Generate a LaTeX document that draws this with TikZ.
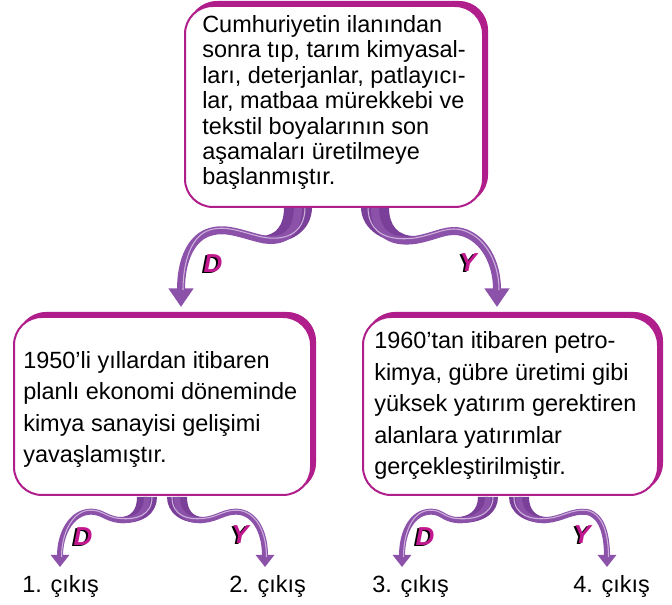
\documentclass[tikz,border=0pt]{standalone}
\usepackage{fontspec}
\setmainfont{Liberation Sans}
\usetikzlibrary{arrows.meta,shadows}
\definecolor{mag}{HTML}{B01E8C}
\definecolor{rib}{HTML}{8C52A9}
\definecolor{ribdark}{HTML}{7A3F98}
\definecolor{ribhi}{HTML}{CDB0DC}
\definecolor{labc}{HTML}{C2188F}
\begin{document}
\begin{tikzpicture}[x=0.75pt,y=-0.75pt,
  box/.style={draw=mag, line width=1.5pt, fill=white, rounded corners=21pt, inner sep=0pt,
     copy shadow={shadow xshift=3pt, shadow yshift=3pt, fill=mag, draw=mag, opacity=1}},
  txt/.style={anchor=base west, align=left, inner sep=0pt, font=\fontsize{17.6}{19.1}\selectfont},
  txtb/.style={anchor=base west, align=left, inner sep=0pt, font=\fontsize{17.6}{23.7}\selectfont},
  outtxt/.style={anchor=base west, inner sep=0pt, font=\fontsize{17.6}{19}\selectfont},
  bigrib/.style={draw=rib, line width=6pt, -{Triangle[width=18pt,length=14pt]}},
  smallrib/.style={draw=rib, line width=4.5pt, -{Triangle[width=13.5pt,length=9pt]}},
  hilite/.style={draw=ribhi, line width=0.8pt},
  twist/.style={fill=ribdark},
  labf/.style={font=\fontsize{19.5}{19.5}\selectfont\bfseries\itshape, text=labc, inner sep=0pt},
  labs/.style={font=\fontsize{19.5}{19.5}\selectfont\bfseries\itshape, text=black, inner sep=0pt}
]
\useasboundingbox (0,0) rectangle (672,605);

% coordinates for connector ends
\coordinate (s1) at (298,207);
\coordinate (e1) at (181,307);
\coordinate (s2) at (375,207);
\coordinate (e2) at (497,307);
\coordinate (s3) at (147,497);
\coordinate (e3) at (60,567);
\coordinate (s4) at (177,497);
\coordinate (e4) at (265,567);
\coordinate (s5) at (488,497);
\coordinate (e5) at (402,567);
\coordinate (s6) at (519,497);
\coordinate (e6) at (607,567);

% ---- top arrows
\fill[twist] (284,207) .. controls (284,226) and (276,235) .. (262,236) -- (262,243) .. controls (292,245) and (312,230) .. (312,207) -- cycle;
\draw[bigrib] (s1) .. controls (298,235) and (282,243) .. (262,239) .. controls (240,234) and (225,226) .. (207,233) .. controls (190,240) and (181,262) .. (e1);
\draw[hilite] (305,207) .. controls (305,236) and (282,241) .. (262,237) .. controls (240,232) and (225,224) .. (207,231) .. controls (191,238) and (183,262) .. (183,290);

\fill[twist] (389,207) .. controls (389,226) and (398,236) .. (415,236) -- (415,243) .. controls (385,245) and (361,230) .. (361,207) -- cycle;
\draw[bigrib] (s2) .. controls (375,235) and (392,243) .. (415,240) .. controls (438,236) and (448,227) .. (465,233) .. controls (484,240) and (497,262) .. (e2);
\draw[hilite] (368,207) .. controls (368,236) and (392,241) .. (415,238) .. controls (438,234) and (448,225) .. (465,231) .. controls (485,238) and (499,262) .. (499,290);

% ---- bottom arrows
\fill[twist] (137,497) .. controls (137,511) and (130,517) .. (120,517) -- (120,523) .. controls (145,524) and (157,512) .. (157,497) -- cycle;
\draw[smallrib] (s3) .. controls (147,515) and (135,521) .. (120,520) .. controls (105,519) and (102,510) .. (87,512) .. controls (70,515) and (60,535) .. (e3);
\draw[hilite] (152,497) .. controls (152,516) and (135,520) .. (120,518.5) .. controls (105,517.5) and (102,508.5) .. (87,510.5) .. controls (71,513.5) and (61.5,535) .. (61.5,557);

\fill[twist] (167,497) .. controls (167,512) and (180,524) .. (203,523) -- (203,517) .. controls (193,517) and (187,510) .. (187,497) -- cycle;
\draw[smallrib] (s4) .. controls (177,515) and (188,521) .. (203,520) .. controls (218,519) and (225,510) .. (240,512) .. controls (257,515) and (265,535) .. (e4);
\draw[hilite] (172,497) .. controls (172,516) and (188,520) .. (203,518.5) .. controls (218,517.5) and (225,508.5) .. (240,510.5) .. controls (258,513.5) and (266.5,535) .. (266.5,557);

\fill[twist] (478,497) .. controls (478,511) and (468,517) .. (457,517) -- (457,523) .. controls (485,524) and (498,512) .. (498,497) -- cycle;
\draw[smallrib] (s5) .. controls (488,515) and (472,521) .. (457,520) .. controls (442,519) and (442,510) .. (427,512) .. controls (410,515) and (402,535) .. (e5);
\draw[hilite] (493,497) .. controls (493,516) and (472,520) .. (457,518.5) .. controls (442,517.5) and (442,508.5) .. (427,510.5) .. controls (411,513.5) and (403.5,535) .. (403.5,557);

\fill[twist] (509,497) .. controls (509,512) and (524,524) .. (547,523) -- (547,517) .. controls (536,517) and (529,510) .. (529,497) -- cycle;
\draw[smallrib] (s6) .. controls (519,515) and (532,521) .. (547,520) .. controls (562,519) and (572,510) .. (587,512) .. controls (602,515) and (607,535) .. (e6);
\draw[hilite] (514,497) .. controls (514,516) and (532,520) .. (547,518.5) .. controls (562,517.5) and (572,508.5) .. (587,510.5) .. controls (603,513.5) and (608.5,535) .. (608.5,557);

% ---- boxes
\node[box, minimum width=223.5pt, minimum height=150.75pt] (top) at (334,106.5) {};
\node[box, minimum width=222.75pt, minimum height=133.5pt] (left) at (162.5,406) {};
\node[box, minimum width=221.25pt, minimum height=133.5pt] (right) at (510.5,406) {};

\node[txt] (toptxt) at (202,185) {Cumhuriyetin ilanından\\sonra tıp, tarım kimyasal-\\ları, deterjanlar, patlayıcı-\\lar, matbaa mürekkebi ve\\tekstil boyalarının son\\aşamaları üretilmeye\\başlanmıştır.};
\node[txtb] (lefttxt) at (23,463) {1950’li yıllardan itibaren\\planlı ekonomi döneminde\\kimya sanayisi gelişimi\\yavaşlamıştır.};
\node[txtb] (righttxt) at (374,475) {1960’tan itibaren petro-\\kimya, gübre üretimi gibi\\yüksek yatırım gerektiren\\alanlara yatırımlar\\gerçekleştirilmiştir.};

% ---- outputs
\node[outtxt] (o1) at (22,593) {1. çıkış};
\node[outtxt] (o2) at (229,593) {2. çıkış};
\node[outtxt] (o3) at (372,593) {3. çıkış};
\node[outtxt] (o4) at (573,593) {4. çıkış};

% ---- labels
\node[labs] (dAs) at (211,265) {D};
\node[labf] (dA) at (213,264) {D};
\node[labs] (yAs) at (466,264) {Y};
\node[labf] (yA) at (468,263) {Y};
\node[labs] (dBs) at (81,538) {D};
\node[labf] (dB) at (83,537) {D};
\node[labs] (yBs) at (238,536) {Y};
\node[labf] (yB) at (240,535) {Y};
\node[labs] (dCs) at (423,538) {D};
\node[labf] (dC) at (425,537) {D};
\node[labs] (yCs) at (580,536) {Y};
\node[labf] (yC) at (582,535) {Y};
\end{tikzpicture}
\end{document}
